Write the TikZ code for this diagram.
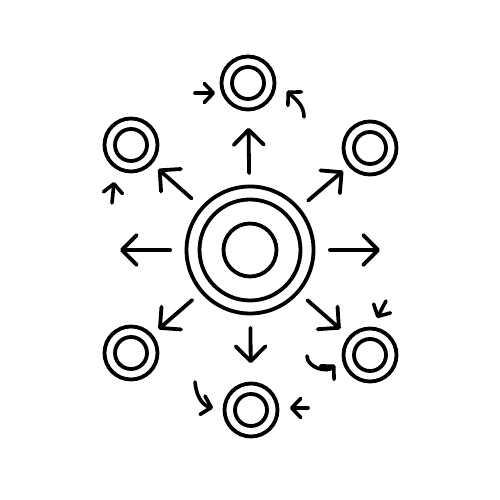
\documentclass[tikz,border=0pt]{standalone}
\usepackage{tikz}
\usetikzlibrary{calc,arrows.meta}
\definecolor{ink}{HTML}{000000}
\definecolor{paper}{HTML}{FFFFFF}
\tikzset{
  ring/.style={circle, draw=ink, line width=3.8pt, inner sep=0pt, outer sep=1.9pt},
  sat/.style={ring, minimum size=53pt},
  satin/.style={ring, minimum size=32pt},
  bigarr/.style={draw=ink, line width=3.8pt, line cap=round, -{Straight Barb[length=15pt, width=30pt, round]}},
  smallarr/.style={draw=ink, line width=3.6pt, line cap=round, -{Straight Barb[length=9pt, width=19pt, round]}}
}
\begin{document}
\begin{tikzpicture}[x=1pt, y=1pt]
\fill[paper] (0,0) rectangle (500,500);
\useasboundingbox (0,0) rectangle (500,500);
\node[ring, minimum size=127pt] (hub) at (250,250) {};
\node[ring, minimum size=101pt] (hubmid) at (hub) {};
\node[ring, minimum size=53pt] (hubin) at (hub) {};
\foreach \nm/\x/\y in {top/248/417, ul/131/355, ur/370/352, ll/131/147, lr/370/145, bot/251/90}{
  \node[sat] (\nm) at (\x,\y) {};
  \node[satin] (\nm in) at (\nm) {};
}
\coordinate (west) at (120,250);
\coordinate (east) at (380,250);
\draw[bigarr, shorten <=11.5pt, shorten >=16.5pt] (hub) -- (top);
\draw[bigarr, shorten <=12.5pt, shorten >=18.5pt] (hub) -- (bot);
\draw[bigarr, shorten <=14.5pt] (hub) -- (west);
\draw[bigarr, shorten <=14.5pt] (hub) -- (east);
\draw[bigarr, shorten <=11pt, shorten >=7pt] (hub) -- (ur);
\draw[bigarr, shorten <=12.5pt, shorten >=8pt] (hub) -- (ul);
\draw[bigarr, shorten <=11pt, shorten >=8pt] (hub) -- (ll);
\draw[bigarr, shorten <=11pt, shorten >=11pt] (hub) -- (lr);
\coordinate (toptail) at (195,407);
\coordinate (topcurl) at (304,383);
\coordinate (topcurltip) at (287,409);
\coordinate (ultail) at (112,297);
\coordinate (ultip) at (114,318);
\coordinate (lrtail) at (386,199);
\coordinate (lrtip) at (377,182);
\coordinate (lrcurl) at (307,144);
\coordinate (lrcurltip) at (335,135);
\coordinate (botcurl) at (195,118);
\coordinate (botcurltip) at (213,92);
\coordinate (bottail) at (308,92);
\draw[smallarr, shorten >=4.5pt] (toptail) -- (toptail -| top.west);
\draw[smallarr] (topcurl) to[out=90, in=-45] (topcurltip);
\draw[smallarr] (ultail) -- (ultip);
\draw[smallarr] (lrtail) -- (lrtip);
\draw[smallarr] (lrcurl) to[out=-90, in=225] (lrcurltip);
\draw[smallarr] (botcurl) to[out=-85, in=165] (botcurltip);
\draw[smallarr, shorten >=10.5pt] (bottail) -- (bottail -| bot.east);
\end{tikzpicture}
\end{document}
